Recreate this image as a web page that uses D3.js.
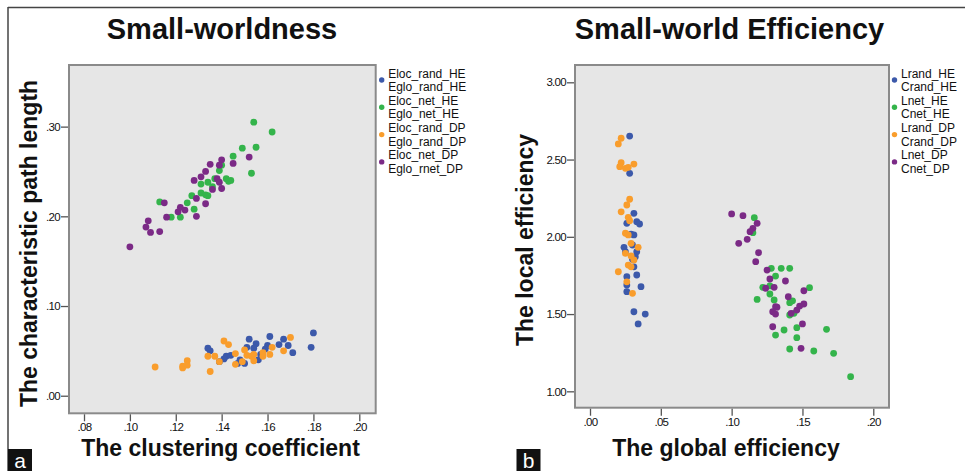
<!DOCTYPE html>
<html><head><meta charset="utf-8">
<script src="https://cdn.jsdelivr.net/npm/d3@7/dist/d3.min.js"></script>
<style>body{margin:0;background:#fff}svg{display:block}text{font-family:"Liberation Sans",Arial,sans-serif}</style>
</head><body><svg id="c" width="965" height="471"></svg>
<script>
// ---------- DATA ----------
const leftTitle = "Small-worldness";
const rightTitle = "Small-world Efficiency";
const leftXLabel = "The clustering coefficient";
const leftYLabel = "The characteristic path length";
const rightXLabel = "The global efficiency";
const rightYLabel = "The local efficiency";

const leftXTicks = [0.08, 0.10, 0.12, 0.14, 0.16, 0.18, 0.20];
const leftYTicks = [0.00, 0.10, 0.20, 0.30];
const rightXTicks = [0.00, 0.05, 0.10, 0.15, 0.20];
const rightYTicks = [1.00, 1.50, 2.00, 2.50, 3.00];

const leftLegend = [["Eloc_rand_HE","Eglo_rand_HE"],["Eloc_net_HE","Eglo_net_HE"],["Eloc_rand_DP","Eglo_rand_DP"],["Eloc_net_DP","Eglo_rnet_DP"]];
const rightLegend = [["Lrand_HE","Crand_HE"],["Lnet_HE","Cnet_HE"],["Lrand_DP","Crand_DP"],["Lnet_DP","Cnet_DP"]];
const seriesColors = ["#3c59aa", "#34b44b", "#f99d2c", "#7b2a86"];

// left panel: [clustering coefficient, characteristic path length]
const swRandHE = [[0.180,0.070],[0.179,0.054],[0.161,0.066],[0.167,0.063],[0.152,0.063],[0.155,0.058],[0.160,0.056],[0.165,0.057],[0.169,0.056],[0.171,0.048],[0.151,0.054],[0.154,0.053],[0.159,0.052],[0.134,0.053],[0.135,0.050],[0.142,0.044],[0.144,0.045],[0.141,0.041],[0.148,0.040],[0.150,0.036],[0.156,0.040],[0.139,0.038],[0.147,0.036],[0.157,0.046]];
const swNetHE = [[0.154,0.305],[0.162,0.294],[0.149,0.276],[0.155,0.277],[0.145,0.267],[0.153,0.248],[0.139,0.251],[0.142,0.242],[0.144,0.240],[0.143,0.239],[0.134,0.238],[0.131,0.236],[0.136,0.233],[0.137,0.242],[0.127,0.223],[0.131,0.226],[0.134,0.223],[0.125,0.215],[0.128,0.208],[0.113,0.216],[0.118,0.199],[0.122,0.199],[0.140,0.257],[0.133,0.224]];
const swRandDP = [[0.111,0.032],[0.123,0.033],[0.123,0.031],[0.125,0.039],[0.125,0.034],[0.135,0.027],[0.134,0.044],[0.137,0.044],[0.141,0.061],[0.143,0.057],[0.139,0.038],[0.146,0.047],[0.146,0.035],[0.150,0.051],[0.151,0.045],[0.153,0.044],[0.154,0.046],[0.154,0.039],[0.158,0.044],[0.158,0.048],[0.161,0.046],[0.162,0.054],[0.167,0.050],[0.170,0.065],[0.149,0.038]];
const swNetDP = [[0.140,0.263],[0.135,0.258],[0.145,0.259],[0.139,0.257],[0.152,0.266],[0.133,0.250],[0.128,0.240],[0.131,0.244],[0.138,0.242],[0.139,0.238],[0.136,0.230],[0.140,0.231],[0.129,0.220],[0.133,0.214],[0.115,0.215],[0.122,0.210],[0.124,0.207],[0.121,0.205],[0.116,0.199],[0.129,0.200],[0.108,0.195],[0.107,0.188],[0.109,0.182],[0.113,0.183],[0.100,0.166]];

// right panel: [global efficiency, local efficiency]
const effRandHE = [[0.028,2.652],[0.028,2.411],[0.031,2.152],[0.033,2.098],[0.035,2.083],[0.026,2.087],[0.031,2.012],[0.024,1.932],[0.030,1.947],[0.032,1.871],[0.031,1.806],[0.026,1.742],[0.033,1.753],[0.026,1.688],[0.036,1.677],[0.026,1.645],[0.031,1.515],[0.039,1.500],[0.034,1.436],[0.025,1.904],[0.033,1.904],[0.029,2.018],[0.030,1.854]];
const effNetHE = [[0.116,2.124],[0.115,2.027],[0.128,1.796],[0.135,1.796],[0.141,1.796],[0.131,1.746],[0.122,1.673],[0.127,1.682],[0.155,1.671],[0.118,1.595],[0.127,1.630],[0.130,1.591],[0.141,1.574],[0.143,1.586],[0.141,1.494],[0.144,1.505],[0.137,1.397],[0.146,1.412],[0.131,1.364],[0.146,1.347],[0.167,1.401],[0.141,1.274],[0.158,1.261],[0.172,1.246],[0.184,1.095]];
const effRandDP = [[0.020,2.601],[0.022,2.638],[0.022,2.480],[0.021,2.454],[0.025,2.443],[0.027,2.450],[0.031,2.471],[0.028,2.243],[0.026,2.206],[0.022,2.162],[0.027,2.126],[0.028,2.104],[0.025,2.023],[0.027,2.012],[0.029,1.958],[0.034,1.932],[0.025,1.893],[0.029,1.876],[0.031,1.850],[0.027,1.817],[0.029,1.806],[0.020,1.774],[0.026,1.709],[0.030,1.634]];
const effNetDP = [[0.100,2.148],[0.108,2.137],[0.118,2.087],[0.115,2.055],[0.113,2.033],[0.111,1.984],[0.105,1.958],[0.119,1.897],[0.117,1.839],[0.125,1.785],[0.127,1.727],[0.138,1.714],[0.124,1.667],[0.130,1.673],[0.151,1.651],[0.140,1.612],[0.131,1.548],[0.132,1.544],[0.129,1.515],[0.131,1.500],[0.142,1.505],[0.148,1.552],[0.151,1.565],[0.146,1.526],[0.150,1.436],[0.129,1.418],[0.149,1.278]];

// ---------- DRAW ----------
const svg = d3.select("#c");

// frame
svg.append("line").attr("x1",8).attr("x2",965).attr("y1",7.5).attr("y2",7.5).attr("stroke","#444").attr("stroke-width",1.5);
svg.append("line").attr("x1",8).attr("x2",8).attr("y1",7).attr("y2",471).attr("stroke","#444").attr("stroke-width",1.5);

const fmtLead = f => v => d3.format(f)(v).replace(/^0\./, ".");

function panel(cfg){
  const g = svg.append("g");
  const x = d3.scaleLinear().domain(cfg.xDomain).range([cfg.left, cfg.right]);
  const y = d3.scaleLinear().domain(cfg.yDomain).range([cfg.bottom, cfg.top]);

  g.append("rect").attr("x",cfg.left).attr("y",cfg.top)
    .attr("width",cfg.right-cfg.left).attr("height",cfg.bottom-cfg.top)
    .attr("fill","#e6e6e6").attr("stroke","#8a8a8a").attr("stroke-width",2);

  const xa = g.append("g").attr("transform",`translate(0,${cfg.bottom+1})`)
    .call(d3.axisBottom(x).tickValues(cfg.xTicks).tickFormat(cfg.xFmt).tickSize(7).tickPadding(2));
  const ya = g.append("g").attr("transform",`translate(${cfg.left-1},0)`)
    .call(d3.axisLeft(y).tickValues(cfg.yTicks).tickFormat(cfg.yFmt).tickSize(7).tickPadding(1));
  [xa, ya].forEach(a => {
    a.select(".domain").remove();
    a.selectAll(".tick line").attr("stroke","#555").attr("stroke-width",1.3);
    a.selectAll(".tick text").attr("fill","#111").style("font-size","11.5px")
      .style("letter-spacing","-0.7px").style("font-family","'Liberation Sans',Arial,sans-serif");
  });

  cfg.series.forEach((s, i) => {
    g.append("g").selectAll("circle").data(s).join("circle")
      .attr("cx", d => x(d[0])).attr("cy", d => y(d[1])).attr("r", 3.4)
      .attr("fill", seriesColors[i]);
  });

  g.append("text").attr("x",cfg.titleX).attr("y",39).attr("text-anchor","middle")
    .style("font-size","29px").style("font-weight","bold").attr("fill","#111").text(cfg.title);
  g.append("text").attr("x",cfg.xLabelX).attr("y",456).attr("text-anchor","middle")
    .style("font-size","23px").style("font-weight","bold").attr("fill","#111").text(cfg.xLabel);
  g.append("text").attr("transform",`translate(${cfg.yLabelX},${cfg.yLabelY}) rotate(-90)`)
    .attr("text-anchor","middle")
    .style("font-size","23px").style("font-weight","bold").attr("fill","#111").text(cfg.yLabel);

  cfg.legend.forEach((lines, i) => {
    const cy = 80 + i*27.3;
    g.append("circle").attr("cx",cfg.legX).attr("cy",cy).attr("r",2.7).attr("fill",seriesColors[i]);
    lines.forEach((t, j) => {
      g.append("text").attr("x",cfg.legX+6.5).attr("y",cy - 2.5 + j*13.5)
        .style("font-size","12px").attr("fill","#111").text(t);
    });
  });

  g.append("rect").attr("x",cfg.tagX).attr("y",449).attr("width",24).attr("height",22).attr("fill","#111");
  g.append("text").attr("x",cfg.tagX+12).attr("y",468).attr("text-anchor","middle")
    .style("font-size","21px").attr("fill","#fff").text(cfg.tag);
}

panel({
  left:69, right:375.7, top:65, bottom:413.3,
  xDomain:[0.07346, 0.20715], yDomain:[-0.0196, 0.3687],
  xTicks:leftXTicks, yTicks:leftYTicks, xFmt:fmtLead(".2f"), yFmt:fmtLead(".2f"),
  series:[swRandHE, swNetHE, swRandDP, swNetDP],
  title:leftTitle, titleX:222, xLabel:leftXLabel, xLabelX:220.5,
  yLabel:leftYLabel, yLabelX:37, yLabelY:243.5,
  legend:leftLegend, legX:381.7, tag:"a", tagX:8
});
panel({
  left:575, right:889, top:65, bottom:407.7,
  xDomain:[-0.01059, 0.2111], yDomain:[0.894, 3.112],
  xTicks:rightXTicks, yTicks:rightYTicks, xFmt:fmtLead(".2f"), yFmt:d3.format(".2f"),
  series:[effRandHE, effNetHE, effRandDP, effNetDP],
  title:rightTitle, titleX:729.5, xLabel:rightXLabel, xLabelX:726,
  yLabel:rightYLabel, yLabelX:533, yLabelY:240,
  legend:rightLegend, legX:894.5, tag:"b", tagX:516.5
});
</script></body></html>
